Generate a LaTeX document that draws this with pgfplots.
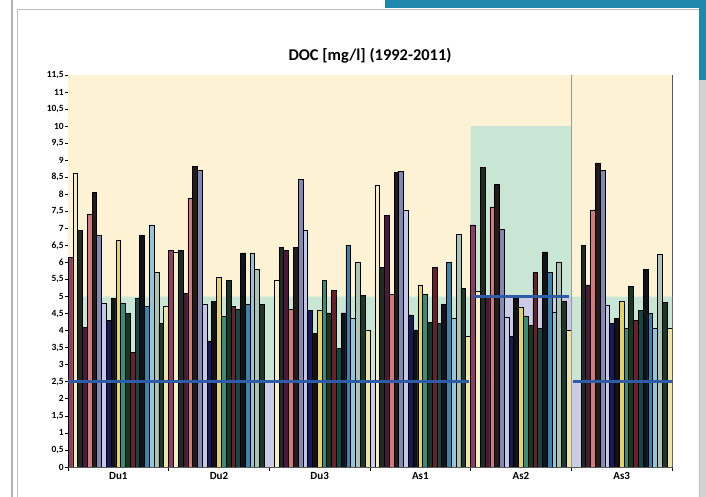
\documentclass[border=0pt]{standalone}
\usepackage{fontspec}
\setmainfont{Carlito}
\usepackage{pgfplots}
\usepackage{pgfplotstable}
\pgfplotsset{compat=1.18}

\definecolor{c1}{HTML}{8E3E5E}
\definecolor{c2}{HTML}{F4EEC4}
\definecolor{c3}{HTML}{1E2A22}
\definecolor{c4}{HTML}{4A1838}
\definecolor{c5}{HTML}{D27A7A}
\definecolor{c6}{HTML}{241A1A}
\definecolor{c7}{HTML}{8288B4}
\definecolor{c8}{HTML}{C4C8E8}
\definecolor{c9}{HTML}{1A1A58}
\definecolor{c10}{HTML}{121212}
\definecolor{c11}{HTML}{E4D264}
\definecolor{c12}{HTML}{3A8C74}
\definecolor{c13}{HTML}{163626}
\definecolor{c14}{HTML}{6A2028}
\definecolor{c15}{HTML}{184646}
\definecolor{c16}{HTML}{101418}
\definecolor{c17}{HTML}{3A84AE}
\definecolor{c18}{HTML}{94C4DA}
\definecolor{c19}{HTML}{ACC4B4}
\definecolor{c20}{HTML}{1C382A}
\definecolor{c21}{HTML}{EEE2A4}
\definecolor{bgcream}{HTML}{FDF3D4}
\definecolor{bggreen}{HTML}{C9E5D3}
\definecolor{bglav}{HTML}{C9CBE7}
\definecolor{limblue}{HTML}{2E5CA8}
\definecolor{frameteal}{HTML}{1E88AC}

\pgfplotstableread{
g s1 s2 s3 s4 s5 s6 s7 s8 s9 s10 s11 s12 s13 s14 s15 s16 s17 s18 s19 s20 s21
0 6.15 8.6 6.95 4.1 7.4 8.05 6.8 4.8 4.3 4.95 6.65 4.8 4.5 3.35 4.95 6.8 4.7 7.1 5.7 4.2 4.7
1 6.36 6.3 6.36 5.09 7.88 8.83 8.69 4.78 3.7 4.85 5.56 4.41 5.47 4.7 4.62 6.28 4.78 6.28 5.8 4.78 nan
2 nan 5.48 6.44 6.36 4.62 6.44 8.44 6.95 4.6 3.92 4.6 5.48 4.52 5.17 3.48 4.52 6.51 4.36 5.99 5.04 4.0
3 nan 8.27 5.86 7.39 5.07 8.63 8.66 7.52 4.46 4.02 5.34 5.07 4.23 5.86 4.2 4.78 5.99 4.36 6.83 5.24 3.84
4 7.1 5.14 8.79 4.97 7.63 8.3 6.97 4.39 3.82 4.95 4.68 4.41 4.16 5.7 4.07 6.31 5.7 4.53 5.99 4.85 4.0
5 nan nan 6.51 5.34 7.54 8.92 8.69 4.75 4.21 4.35 4.85 4.07 5.29 4.31 4.6 5.8 4.5 4.07 6.25 4.82 4.07
}\doc

\begin{document}
\begin{tikzpicture}
% page / frame decoration
\fill[white] (0,0) rectangle (706bp,497bp);
\useasboundingbox (0,0) rectangle (706bp,497bp);
\draw[black!30, line width=1.5bp] (12bp,0) -- (12bp,497bp);
\draw[black!25, line width=1bp] (17bp,0) -- (17bp,487bp) -- (699bp,487bp) -- (699bp,0);
\fill[frameteal] (385bp,489bp) rectangle (706bp,497bp);
\fill[frameteal] (699bp,417bp) rectangle (706bp,497bp);
\fill[black!18] (700bp,0) rectangle (706bp,417bp);

\begin{axis}[
  at={(68bp,30bp)}, anchor=south west,
  scale only axis, width=604bp, height=392bp,
  xmin=-0.5, xmax=5.5, ymin=0, ymax=11.5,
  axis line style={draw=black!65, line width=0.7bp},
  xtick={0,...,5},
  xticklabels={Du1,Du2,Du3,As1,As2,As3},
  major x tick style={draw=none},
  minor xtick={-0.5,0.5,...,5.5},
  minor x tick style={draw=black, line width=0.8bp},
  minor tick length=4bp,
  ytick={0,0.5,...,11.5},
  major tick length=3bp,
  ytick style={draw=black, line width=0.7bp},
  tick align=outside,
  xtick pos=bottom, ytick pos=left,
  /pgf/number format/.cd, use comma, fixed, precision=1, assume math mode=true,
  /pgfplots/.cd,
  yticklabel style={font=\fontsize{9.5}{10}\selectfont\bfseries, inner sep=1.2bp},
  xticklabel style={font=\fontsize{11}{12}\selectfont\bfseries, yshift=1bp},
  title={DOC [mg/l] (1992-2011)},
  title style={font=\fontsize{16.5}{18}\selectfont\bfseries, yshift=2bp},
  clip=true,
]
% background bands
\addplot[fill=bgcream, draw=none] coordinates {(-0.5,11.5) (5.5,11.5)} \closedcycle;
\addplot[fill=bggreen, draw=none] coordinates {(-0.5,5) (3.5,5) (3.5,10) (4.5,10) (4.5,5) (5.5,5)} \closedcycle;
\addplot[fill=bglav, draw=none] coordinates {(-0.5,2.5) (3.5,2.5) (3.5,5) (4.5,5) (4.5,2.5) (5.5,2.5)} \closedcycle;
% bars, one series per year
\pgfplotsinvokeforeach{1,...,21}{
  \addplot[ybar, bar width=0.0475, bar shift={(#1-11)*0.0475},
           fill=c#1, draw=black, line width=0.75bp]
    table[x=g, y=s#1] {\doc};
}
% limit lines
\addplot[limblue, line width=3bp] coordinates {(-0.5,2.5) (3.48,2.5)};
\addplot[limblue, line width=3bp] coordinates {(3.52,5) (4.48,5)};
\addplot[limblue, line width=3bp] coordinates {(4.52,2.5) (5.5,2.5)};
\addplot[black!40, line width=0.6bp] coordinates {(4.5,0) (4.5,11.5)};
\end{axis}
\end{tikzpicture}
\end{document}
